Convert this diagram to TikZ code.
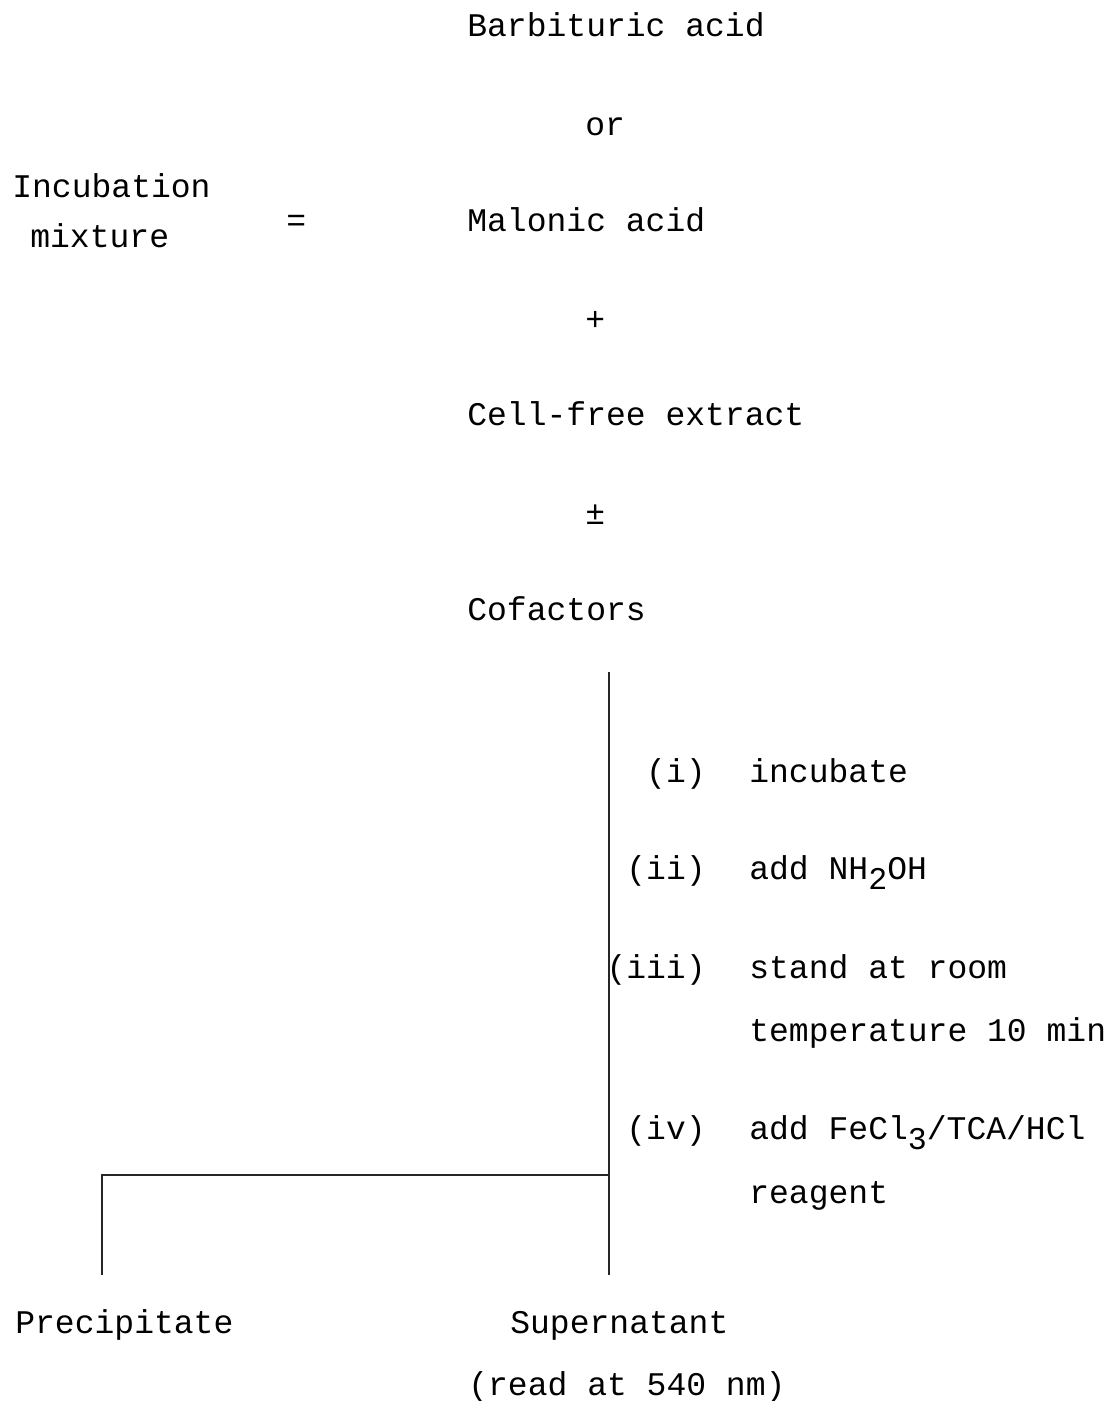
\documentclass[tikz,border=0pt]{standalone}
\usepackage{fontspec}
\setmainfont{Liberation Mono}
\newcommand*{\sub}[1]{\raisebox{-0.6ex}{\fontsize{18}{18}\selectfont #1}}

\begin{document}
\begin{tikzpicture}
[
	txt/.style={anchor=base west,inner sep=0pt,font=\fontsize{18.8}{22}\selectfont},
	num/.style={anchor=base east,inner sep=0pt,font=\fontsize{18.8}{22}\selectfont},
	rule/.style={line width=1.5pt,black!85},
	x=0.02cm,y=-0.02cm
]
	\useasboundingbox (0,0) rectangle (1111,1401);

	% mixture
	\node[txt] (barb) at (467,36) {Barbituric acid};
	\node[txt] (or) at (585,135) {or};
	\node[txt] (incub) at (12,197) {Incubation};
	\node[txt] (mix) at (30,247) {mixture};
	\node[txt] (eq) at (286,231) {=};
	\node[txt] (malon) at (467,231) {Malonic acid};
	\node[txt] (plus) at (585,330) {+};
	\node[txt] (cell) at (467,425) {Cell-free extract};
	\node[txt] (pm) at (585,524) {±};
	\node[txt] (cofac) at (467,620) {Cofactors};

	% steps
	\node[num] (s1) at (706,782) {(i)};
	\node[txt] (t1) at (749,782) {incubate};
	\node[num] (s2) at (706,879) {(ii)};
	\node[txt] (t2) at (749,879) {add NH\sub{2}OH};
	\node[num] (s3) at (706,978) {(iii)};
	\node[txt] (t3) at (749,978) {stand at room};
	\node[txt] (t3b) at (749,1041) {temperature 10 min};
	\node[num] (s4) at (706,1139) {(iv)};
	\node[txt] (t4) at (749,1139) {add FeCl\sub{3}/TCA/HCl};
	\node[txt] (t4b) at (749,1203) {reagent};

	% products
	\node[txt] (prec) at (15,1333) {Precipitate};
	\node[txt] (super) at (510,1333) {Supernatant};
	\node[txt] (read) at (468,1395) {(read at 540 nm)};

	% lines
	\coordinate (top) at (609,672);
	\coordinate (split) at (609,1175);
	\coordinate (sbot) at (609,1275);
	\coordinate (pcorner) at (102,1175);
	\coordinate (pbot) at (102,1275);
	\draw[rule] (top) -- (sbot);
	\draw[rule] (split) -- (pcorner) -- (pbot);

\end{tikzpicture}
\end{document}
